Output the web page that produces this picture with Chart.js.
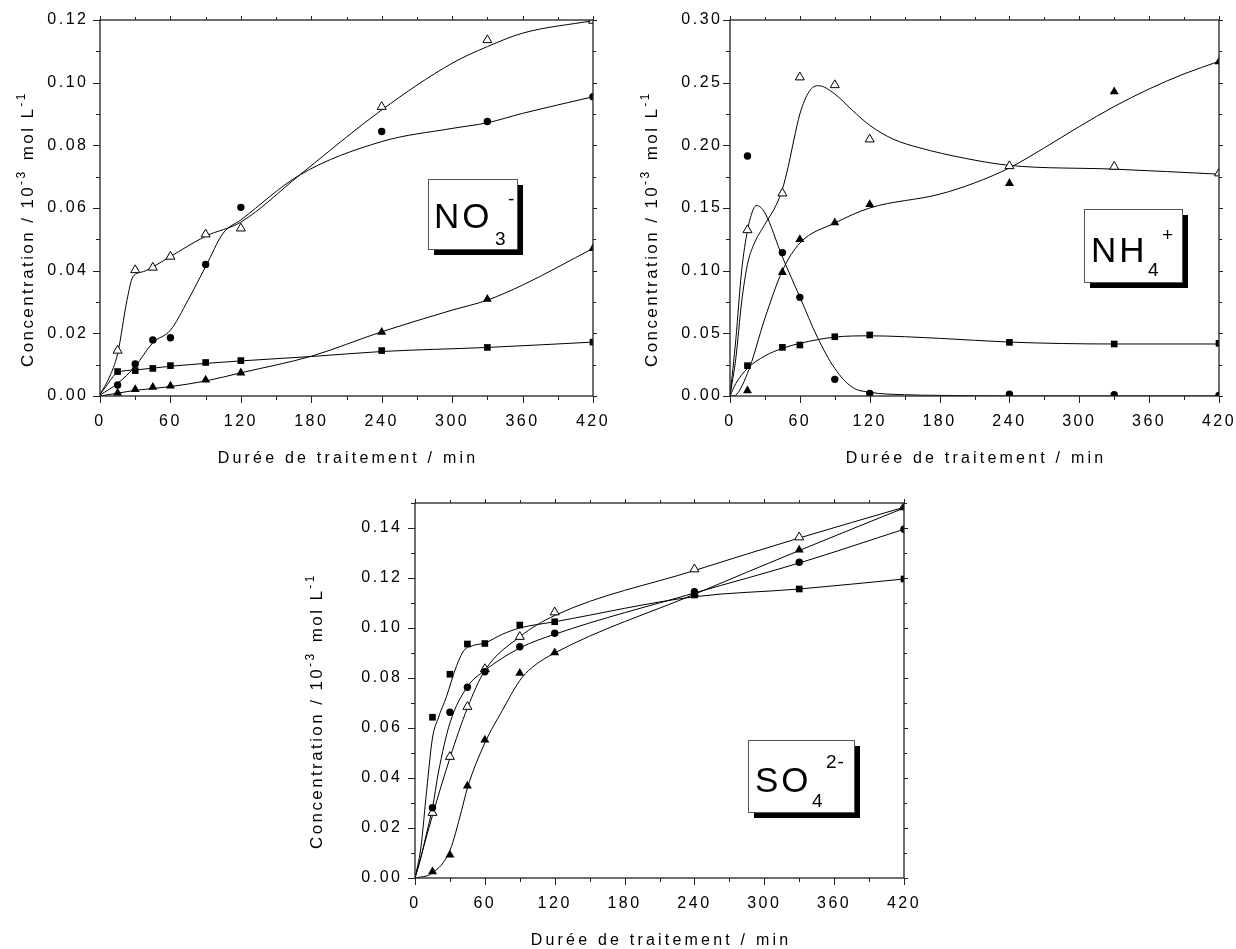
<!DOCTYPE html>
<html>
<head>
<meta charset="utf-8">
<script src="https://cdn.jsdelivr.net/npm/chart.js@4.4.0/dist/chart.umd.min.js"></script>
<style>
html, body { margin: 0; padding: 0; background: #fff; }
body { width: 1236px; height: 949px; position: relative; overflow: hidden; }
.panel { position: absolute; }
</style>
</head>
<body>
<div class="panel" style="left:0;top:0"><canvas id="no3" width="618" height="480"></canvas></div>
<div class="panel" style="left:618px;top:0"><canvas id="nh4" width="618" height="480"></canvas></div>
<div class="panel" style="left:300px;top:480px"><canvas id="so4" width="636" height="469"></canvas></div>
<script>
// measured times (min)
const times = [15, 30, 45, 60, 90, 120, 240, 330, 420];
const timesNH4 = [15, 45, 60, 90, 120, 240, 330, 420];

// NO3- markers
const no3Square = [0.0078, 0.0081, 0.0088, 0.0097, 0.0107, 0.0113, 0.0145, 0.0155, 0.0172];
const no3Circle = [0.0035, 0.0102, 0.0179, 0.0186, 0.0420, 0.0602, 0.0844, 0.0876, 0.0955];
const no3TriFill = [0.0010, 0.0021, 0.0028, 0.0032, 0.0051, 0.0074, 0.0204, 0.0309, 0.0471];
const no3TriOpen = [0.0145, 0.0402, 0.0410, 0.0445, 0.0516, 0.0535, 0.0923, 0.1136, 0.1198];
// NO3- fitted curves
const no3SquareFitX = [0, 5, 15, 30, 60, 120, 180, 240, 330, 420];
const no3SquareFitY = [0.0005, 0.003, 0.0075, 0.0083, 0.0095, 0.0112, 0.0126, 0.0142, 0.0155, 0.0172];
const no3CircleFitX = [0, 15, 30, 45, 60, 75, 90, 105, 120, 170, 240, 300, 330, 360, 420];
const no3CircleFitY = [0.0003, 0.004, 0.0095, 0.017, 0.021, 0.0306, 0.0413, 0.052, 0.0562, 0.0705, 0.0812, 0.0854, 0.0872, 0.0902, 0.0955];
const no3TriFillFitX = [0, 15, 30, 60, 90, 120, 180, 240, 300, 330, 360, 420];
const no3TriFillFitY = [0, 0.0009, 0.0018, 0.003, 0.0048, 0.0074, 0.0127, 0.0205, 0.0274, 0.0306, 0.0354, 0.0471];
const no3TriOpenFitX = [0, 8, 15, 23, 28, 37, 45, 60, 90, 120, 170, 240, 300, 330, 360, 420];
const no3TriOpenFitY = [0.0005, 0.006, 0.0135, 0.0306, 0.038, 0.0397, 0.0412, 0.0445, 0.051, 0.0555, 0.0705, 0.0913, 0.1062, 0.1115, 0.1158, 0.1198];

// NH4+ markers
const nh4Square = [0.0242, 0.0388, 0.0407, 0.0473, 0.0487, 0.0428, 0.0415, 0.0420];
const nh4Circle = [0.1915, 0.1144, 0.0787, 0.0133, 0.0021, 0.0015, 0.0010, 0.0005];
const nh4TriFill = [0.0043, 0.0987, 0.1250, 0.1383, 0.1529, 0.1697, 0.2428, 0.2667];
const nh4TriOpen = [0.1324, 0.1617, 0.2543, 0.2481, 0.2048, 0.1835, 0.1830, 0.1777];
// NH4+ fitted curves
const nh4SquareFitX = [0, 5, 15, 30, 45, 60, 90, 120, 180, 240, 330, 420];
const nh4SquareFitY = [0, 0.01, 0.022, 0.032, 0.038, 0.042, 0.047, 0.048, 0.046, 0.043, 0.0415, 0.0415];
const nh4CircleFitX = [0, 5, 10, 15, 20, 23, 30, 45, 60, 75, 90, 105, 120, 150, 180, 240, 420];
const nh4CircleFitY = [0, 0.045, 0.1, 0.132, 0.149, 0.152, 0.146, 0.111, 0.079, 0.047, 0.022, 0.007, 0.003, 0.001, 0.0005, 0, 0];
const nh4TriFillFitX = [0, 3, 15, 30, 45, 60, 90, 120, 180, 210, 240, 270, 300, 330, 360, 390, 420];
const nh4TriFillFitY = [0, 0, 0.018, 0.062, 0.1, 0.122, 0.138, 0.15, 0.161, 0.17, 0.182, 0.198, 0.215, 0.231, 0.245, 0.257, 0.267];
const nh4TriOpenFitX = [0, 5, 10, 15, 20, 30, 40, 45, 50, 55, 60, 68, 76, 90, 105, 120, 140, 163, 200, 240, 330, 420];
const nh4TriOpenFitY = [0, 0.03, 0.075, 0.105, 0.12, 0.137, 0.153, 0.165, 0.183, 0.205, 0.225, 0.243, 0.2476, 0.241, 0.228, 0.216, 0.205, 0.198, 0.19, 0.184, 0.181, 0.177];

// SO4 2- markers
const so4Square = [0.0643, 0.0815, 0.0936, 0.0938, 0.1012, 0.1025, 0.1132, 0.1156, 0.1196];
const so4Circle = [0.0281, 0.0663, 0.0763, 0.0825, 0.0925, 0.0979, 0.1145, 0.1263, 0.1395];
const so4TriFill = [0.0025, 0.0092, 0.0368, 0.0552, 0.0819, 0.0901, 0.1139, 0.1312, 0.1481];
const so4TriOpen = [0.0261, 0.0485, 0.0685, 0.0836, 0.0965, 0.1063, 0.1235, 0.1363, 0.1485];
// SO4 2- fitted curves
const so4SquareFitX = [0, 5, 10, 15, 20, 27, 35, 42, 50, 60, 75, 90, 120, 240, 330, 420];
const so4SquareFitY = [0, 0.012, 0.035, 0.056, 0.064, 0.0725, 0.084, 0.091, 0.093, 0.094, 0.0975, 0.1, 0.1025, 0.1125, 0.1156, 0.1196];
const so4CircleFitX = [0, 5, 10, 15, 20, 30, 45, 60, 90, 120, 240, 330, 420];
const so4CircleFitY = [0, 0.008, 0.018, 0.028, 0.042, 0.062, 0.0765, 0.083, 0.092, 0.0975, 0.114, 0.126, 0.1395];
const so4TriFillFitX = [0, 15, 30, 40, 45, 60, 75, 90, 100, 120, 240, 330, 420];
const so4TriFillFitY = [0, 0.002, 0.011, 0.027, 0.036, 0.054, 0.067, 0.079, 0.084, 0.09, 0.1135, 0.131, 0.148];
const so4TriOpenFitX = [0, 15, 30, 45, 60, 90, 120, 240, 330, 420];
const so4TriOpenFitY = [0, 0.025, 0.048, 0.068, 0.083, 0.0965, 0.105, 0.123, 0.136, 0.1483];

const FONT = '"Liberation Sans", Arial, sans-serif';

function pts(xs, ys) {
    return xs.map((x, i) => ({ x: x, y: ys[i] }));
}

function markers(xs, ys, style) {
    const open = style === 'triangleOpen';
    return {
        data: pts(xs, ys),
        showLine: false,
        pointStyle: open || style === 'triangle' ? 'triangle' : style,
        pointRadius: style === 'rect' ? 4.7 : (style === 'circle' ? 3.7 : 5.2),
        backgroundColor: open ? '#fff' : '#000',
        borderColor: '#000',
        borderWidth: open ? 1 : 0,
        clip: 0
    };
}

function curve(xs, ys) {
    return {
        data: pts(xs, ys),
        showLine: true,
        pointRadius: 0,
        borderColor: '#000',
        borderWidth: 1,
        cubicInterpolationMode: 'monotone',
        fill: false,
        clip: 0
    };
}

// axes, ticks, titles and ion label drawn on top of chart
function decor(p) {
    return {
        id: 'decor',
        beforeDraw(chart) {
            chart.ctx.letterSpacing = '2.5px';
        },
        afterDraw(chart) {
            const ctx = chart.ctx, a = chart.chartArea;
            const xs = chart.scales.x, ys = chart.scales.y;
            ctx.save();
            ctx.strokeStyle = '#222';
            ctx.lineWidth = 1.3;
            ctx.strokeRect(a.left, a.top, a.right - a.left, a.bottom - a.top);

            ctx.lineWidth = 1;
            ctx.beginPath();
            xs.ticks.forEach(t => {
                const px = Math.round(xs.getPixelForValue(t.value)) + 0.5;
                const major = t.label !== '';
                ctx.moveTo(px, a.bottom); ctx.lineTo(px, a.bottom + (major ? 7 : 4));
                ctx.moveTo(px, a.top); ctx.lineTo(px, a.top - (major ? 4 : 3));
            });
            ys.ticks.forEach(t => {
                const py = Math.round(ys.getPixelForValue(t.value)) + 0.5;
                const major = t.label !== '';
                ctx.moveTo(a.left, py); ctx.lineTo(a.left - (major ? 7 : 4), py);
                ctx.moveTo(a.right, py); ctx.lineTo(a.right + (major ? 4 : 3), py);
            });
            ctx.stroke();

            ctx.fillStyle = '#000';
            // x title
            ctx.font = '16px ' + FONT;
            ctx.letterSpacing = '3.2px';
            ctx.textAlign = 'center';
            ctx.textBaseline = 'alphabetic';
            ctx.fillText('Durée de traitement / min', (a.left + a.right) / 2 + 1.5, a.bottom + 67);

            // y title
            ctx.save();
            ctx.translate(a.left - p.yTitleGap, a.bottom - 29);
            ctx.rotate(-Math.PI / 2);
            ctx.textAlign = 'left';
            ctx.letterSpacing = '2.4px';
            const pieces = [['Concentration / 10', false], ['-3', true], [' mol L', false], ['-1', true]];
            let cx = 0;
            pieces.forEach(([txt, sup]) => {
                ctx.font = (sup ? '12px ' : '17px ') + FONT;
                ctx.fillText(txt, cx, sup ? -8 : 0);
                cx += ctx.measureText(txt).width + (sup ? 2 : 0);
            });
            ctx.restore();

            // ion label box
            const b = p.box, ox = p.offX, oy = p.offY;
            const bx = b.x - ox, by = b.y - oy;
            ctx.fillStyle = '#000';
            ctx.fillRect(bx + 6, by + 6, b.w, b.h);
            ctx.fillStyle = '#fff';
            ctx.fillRect(bx, by, b.w, b.h);
            ctx.strokeStyle = '#555';
            ctx.lineWidth = 1;
            ctx.strokeRect(bx + 0.5, by + 0.5, b.w, b.h);
            ctx.fillStyle = '#000';
            ctx.textAlign = 'left';
            ctx.letterSpacing = '3px';
            ctx.font = '35px ' + FONT;
            ctx.fillText(p.ion[0], p.ionPos[0] - ox, p.ionPos[1] - oy);
            ctx.letterSpacing = '1px';
            ctx.font = '19px ' + FONT;
            ctx.fillText(p.ion[1], p.subPos[0] - ox, p.subPos[1] - oy);
            ctx.fillText(p.ion[2], p.supPos[0] - ox, p.supPos[1] - oy);
            ctx.restore();
        }
    };
}

function makePanel(id, p) {
    const ctx = document.getElementById(id).getContext('2d');
    return new Chart(ctx, {
        type: 'scatter',
        data: {
            datasets: [
                markers(p.t, p.square, 'rect'),
                markers(p.t, p.circle, 'circle'),
                markers(p.t, p.triFill, 'triangle'),
                markers(p.t, p.triOpen, 'triangleOpen'),
                ...p.fits.map(f => curve(f[0], f[1]))
            ]
        },
        options: {
            responsive: false,
            animation: false,
            layout: { padding: { top: p.padTop, right: p.padRight, left: 0, bottom: 0 } },
            plugins: { legend: { display: false }, tooltip: { enabled: false } },
            scales: {
                x: {
                    type: 'linear', min: 0, max: 420,
                    grid: { display: false, drawTicks: false },
                    border: { display: false },
                    ticks: {
                        stepSize: 30, autoSkip: false, maxRotation: 0, padding: 16,
                        color: '#000', font: { family: FONT, size: 16 },
                        callback: v => (v % 60 === 0 ? String(v) : '')
                    },
                    afterFit(s) { s.height = p.xH; s.paddingLeft = 0; s.paddingRight = 0; }
                },
                y: {
                    min: 0, max: p.yMax,
                    grid: { display: false, drawTicks: false },
                    border: { display: false },
                    ticks: {
                        stepSize: p.yStep, autoSkip: false, padding: p.yPad,
                        color: '#000', font: { family: FONT, size: 16 },
                        callback: v => (Math.round(v * 1000) % p.yLab === 0 ? v.toFixed(2) : '')
                    },
                    afterFit(s) { s.width = p.yW; s.paddingTop = 0; s.paddingBottom = 0; }
                }
            }
        },
        plugins: [decor(p)]
    });
}

makePanel('no3', {
    t: times, square: no3Square, circle: no3Circle, triFill: no3TriFill, triOpen: no3TriOpen,
    fits: [[no3SquareFitX, no3SquareFitY], [no3CircleFitX, no3CircleFitY], [no3TriFillFitX, no3TriFillFitY], [no3TriOpenFitX, no3TriOpenFitY]],
    yMax: 0.12, yStep: 0.01, yLab: 20, yPad: 11.5, yW: 100, xH: 84, padTop: 20, padRight: 25,
    yTitleGap: 67, offX: 0, offY: 0,
    box: { x: 428, y: 179, w: 89, h: 70 },
    ion: ['NO', '3', '-'], ionPos: [434, 228], subPos: [495, 245], supPos: [508, 205]
});

makePanel('nh4', {
    t: timesNH4, square: nh4Square, circle: nh4Circle, triFill: nh4TriFill, triOpen: nh4TriOpen,
    fits: [[nh4SquareFitX, nh4SquareFitY], [nh4CircleFitX, nh4CircleFitY], [nh4TriFillFitX, nh4TriFillFitY], [nh4TriOpenFitX, nh4TriOpenFitY]],
    yMax: 0.30, yStep: 0.025, yLab: 50, yPad: 7.5, yW: 112, xH: 84, padTop: 20, padRight: 17,
    yTitleGap: 73, offX: 618, offY: 0,
    box: { x: 1084, y: 209, w: 98, h: 73 },
    ion: ['NH', '4', '+'], ionPos: [1091, 262], subPos: [1148, 276], supPos: [1162, 241]
});

makePanel('so4', {
    t: times, square: so4Square, circle: so4Circle, triFill: so4TriFill, triOpen: so4TriOpen,
    fits: [[so4SquareFitX, so4SquareFitY], [so4CircleFitX, so4CircleFitY], [so4TriFillFitX, so4TriFillFitY], [so4TriOpenFitX, so4TriOpenFitY]],
    yMax: 0.15, yStep: 0.01, yLab: 20, yPad: 12.5, yW: 115, xH: 71, padTop: 23, padRight: 32,
    yTitleGap: 93, offX: 300, offY: 480,
    box: { x: 748, y: 740, w: 106, h: 72 },
    ion: ['SO', '4', '2-'], ionPos: [755, 792], subPos: [812, 807], supPos: [826, 768]
});
</script>
</body>
</html>
